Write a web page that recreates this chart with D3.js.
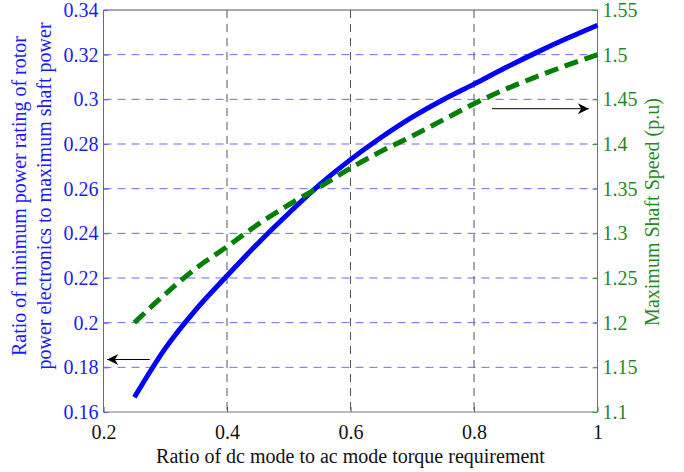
<!DOCTYPE html>
<html><head><meta charset="utf-8">
<script src="https://cdn.jsdelivr.net/npm/d3@7"></script>
<style>body{margin:0;background:#fff}svg{display:block}</style>
</head><body><svg id="c" width="684" height="472"></svg>
<script>
const ratio = [0.25,0.30,0.35,0.40,0.45,0.50,0.55,0.60,0.65,0.70,0.75,0.80,0.85,0.90,0.95,1.00];
const powerRating = [0.1666,0.1885,0.2060,0.2210,0.2355,0.2490,0.2618,0.2730,0.2830,0.2920,0.2998,0.3068,0.3140,0.3208,0.3272,0.3332];
const shaftSpeed = [1.200,1.232,1.261,1.285,1.310,1.332,1.352,1.373,1.392,1.409,1.427,1.445,1.461,1.475,1.488,1.500];
const xTicks = [0.2,0.4,0.6,0.8,1];
const yLeftTicks = [0.16,0.18,0.2,0.22,0.24,0.26,0.28,0.3,0.32,0.34];
const yRightTicks = [1.1,1.15,1.2,1.25,1.3,1.35,1.4,1.45,1.5,1.55];

const FF='"Liberation Serif","Times New Roman","DejaVu Serif",serif';
const L=103.5,R=597.5,T=10,B=412;
const svg=d3.select("#c");
const x=d3.scaleLinear().domain([0.2,1]).range([L,R]);
const yL=d3.scaleLinear().domain([0.16,0.34]).range([B,T]);
const yR=d3.scaleLinear().domain([1.1,1.55]).range([B,T]);
const blueTxt="#1a1aff", greenTxt="#1f8a1f";

// grid
svg.append("g").selectAll("line").data(yLeftTicks.slice(1,-1)).join("line")
 .attr("x1",L).attr("x2",R).attr("y1",d=>yL(d)).attr("y2",d=>yL(d))
 .attr("stroke","#6a6aff").attr("stroke-width",1).attr("stroke-dasharray","8,6");
svg.append("g").selectAll("line").data(xTicks.slice(1,-1)).join("line")
 .attr("x1",d=>x(d)).attr("x2",d=>x(d)).attr("y1",T).attr("y2",B)
 .attr("stroke","#555").attr("stroke-width",1).attr("stroke-dasharray","8,6");

// frame top / bottom
svg.append("line").attr("x1",L).attr("x2",R).attr("y1",T).attr("y2",T).attr("stroke","#555");
svg.append("line").attr("x1",L).attr("x2",R).attr("y1",B).attr("y2",B).attr("stroke","#777");

// axes
const ax=svg.append("g").attr("transform",`translate(0,${B})`)
 .call(d3.axisTop(x).tickValues(xTicks).tickSize(5).tickFormat(d3.format("~g")));
ax.attr("font-family",FF);
ax.select(".domain").remove();
ax.selectAll("line").attr("stroke","#555");
ax.selectAll("text").attr("y",27).attr("dy",0).attr("font-size",20).attr("font-family",FF).attr("fill","#111");

const al=svg.append("g").attr("transform",`translate(${L},0)`)
 .call(d3.axisRight(yL).tickValues(yLeftTicks).tickSize(5).tickFormat(d3.format("~g")));
al.attr("font-family",FF);
al.select(".domain").attr("stroke","#5a5aff").attr("d",`M0,${T}V${B}`);
al.selectAll("line").attr("stroke","#5a5aff");
al.selectAll("text").attr("x",-5).attr("text-anchor","end").attr("dy","0.33em").attr("font-size",20).attr("font-family",FF).attr("fill",blueTxt);

const ar=svg.append("g").attr("transform",`translate(${R},0)`)
 .call(d3.axisLeft(yR).tickValues(yRightTicks).tickSize(5).tickFormat(d3.format("~g")));
ar.attr("font-family",FF);
ar.select(".domain").attr("stroke","#3a9a3a").attr("d",`M0,${T}V${B}`);
ar.selectAll("line").attr("stroke","#3a9a3a");
ar.selectAll("text").attr("x",5).attr("text-anchor","start").attr("dy","0.33em").attr("font-size",20).attr("font-family",FF).attr("fill",greenTxt);

// lines
const data=ratio.map((r,i)=>({r,p:powerRating[i],s:shaftSpeed[i]}));
svg.append("path").datum(data).attr("fill","none").attr("stroke","#0000ff").attr("stroke-width",5)
 .attr("d",d3.line().x(d=>x(d.r)).y(d=>yL(d.p)).curve(d3.curveMonotoneX));
svg.append("path").datum(data).attr("fill","none").attr("stroke","#008000").attr("stroke-width",5)
 .attr("stroke-dasharray","14,7")
 .attr("d",d3.line().x(d=>x(d.r)).y(d=>yR(d.s)).curve(d3.curveMonotoneX));

// arrows
const defs=svg.append("defs");
defs.append("marker").attr("id","ah").attr("viewBox","0 0 10 10").attr("refX",10).attr("refY",5)
 .attr("markerWidth",16).attr("markerHeight",11).attr("markerUnits","userSpaceOnUse").attr("orient","auto")
 .append("path").attr("d","M0,0 L10,5 L0,10 L3,5 Z").attr("fill","#000");
svg.append("line").attr("x1",x(0.275)).attr("x2",x(0.206)).attr("y1",yL(0.1835)).attr("y2",yL(0.1835))
 .attr("stroke","#000").attr("stroke-width",1).attr("marker-end","url(#ah)");
svg.append("line").attr("x1",x(0.829)).attr("x2",x(0.986)).attr("y1",yR(1.4395)).attr("y2",yR(1.4395))
 .attr("stroke","#000").attr("stroke-width",1).attr("marker-end","url(#ah)");

// labels
svg.append("text").attr("x",(L+R)/2).attr("y",463).attr("text-anchor","middle").attr("font-size",20).attr("font-family",FF).attr("fill","#111")
 .text("Ratio of dc mode to ac mode torque requirement");
const ly=svg.append("text").attr("transform",`translate(26,196) rotate(-90)`).attr("text-anchor","middle").attr("font-size",20).attr("font-family",FF).attr("fill",blueTxt);
ly.append("tspan").attr("x",0).attr("y",0).text("Ratio of minimum power rating of rotor");
ly.append("tspan").attr("x",0).attr("y",25).text("power electronics to maximum shaft power");
svg.append("text").attr("transform",`translate(659,212) rotate(-90)`).attr("text-anchor","middle").attr("font-size",20).attr("font-family",FF).attr("fill",greenTxt)
 .text("Maximum Shaft Speed (p.u)");
</script></body></html>
